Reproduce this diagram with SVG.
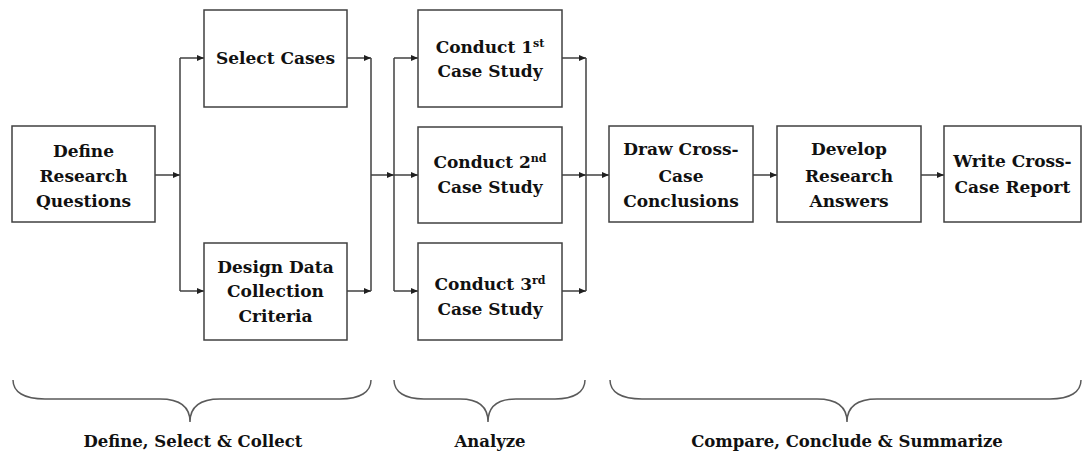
<svg xmlns="http://www.w3.org/2000/svg" width="1083" height="455" viewBox="0 0 1083 455">
<style>
  .box { fill: #ffffff; stroke: #404040; stroke-width: 1.5; }
  .lbl { font-family: "DejaVu Serif", "Liberation Serif", serif; font-weight: bold; font-size: 17px; fill: #111111; text-anchor: middle; }
  .sup { font-size: 11px; }
  .cn { fill: none; stroke: #404040; stroke-width: 1.5; }
  .arr { marker-end: url(#ah); }
  .brace { fill: none; stroke: #5a5a5a; stroke-width: 1.5; }
  .blbl { font-family: "DejaVu Serif", "Liberation Serif", serif; font-weight: bold; font-size: 16.5px; fill: #111111; text-anchor: middle; }
</style>
<defs>
  <marker id="ah" markerUnits="userSpaceOnUse" markerWidth="8" markerHeight="6" refX="7" refY="3" orient="auto">
    <path d="M0,0 L7,3 L0,6 z" fill="#202020"/>
  </marker>
</defs>
<rect width="1083" height="455" fill="#ffffff"/>

<g id="connectors">
  <line class="cn arr" x1="155" y1="175" x2="180" y2="175"/>
  <line class="cn" x1="180" y1="58" x2="180" y2="291"/>
  <line class="cn arr" x1="180" y1="58" x2="204" y2="58"/>
  <line class="cn arr" x1="180" y1="291" x2="204" y2="291"/>
  <line class="cn arr" x1="347" y1="58" x2="371" y2="58"/>
  <line class="cn arr" x1="347" y1="291" x2="371" y2="291"/>
  <line class="cn" x1="371" y1="58" x2="371" y2="291"/>
  <line class="cn arr" x1="371" y1="175" x2="394" y2="175"/>
  <line class="cn" x1="394" y1="58" x2="394" y2="291"/>
  <line class="cn arr" x1="394" y1="58" x2="418" y2="58"/>
  <line class="cn arr" x1="394" y1="175" x2="418" y2="175"/>
  <line class="cn arr" x1="394" y1="291" x2="418" y2="291"/>
  <line class="cn arr" x1="562" y1="58" x2="586" y2="58"/>
  <line class="cn arr" x1="562" y1="175" x2="586" y2="175"/>
  <line class="cn arr" x1="562" y1="291" x2="586" y2="291"/>
  <line class="cn" x1="586" y1="58" x2="586" y2="291"/>
  <line class="cn arr" x1="586" y1="175" x2="609" y2="175"/>
  <line class="cn arr" x1="753" y1="175" x2="777" y2="175"/>
  <line class="cn arr" x1="921" y1="175" x2="944" y2="175"/>
</g>

<g id="define">
  <rect class="box" x="12" y="126" width="143" height="96"/>
  <text class="lbl" x="83.5" y="157">Define</text>
  <text class="lbl" x="83.5" y="182">Research</text>
  <text class="lbl" x="83.5" y="207">Questions</text>
</g>
<g id="select">
  <rect class="box" x="204" y="10" width="143" height="97"/>
  <text class="lbl" x="275.5" y="64">Select Cases</text>
</g>
<g id="design">
  <rect class="box" x="204" y="243" width="143" height="97"/>
  <text class="lbl" x="275.5" y="273">Design Data</text>
  <text class="lbl" x="275.5" y="297">Collection</text>
  <text class="lbl" x="275.5" y="322">Criteria</text>
</g>
<g id="case1">
  <rect class="box" x="418" y="10" width="144" height="97"/>
  <text class="lbl" x="490" y="53">Conduct 1<tspan class="sup" dy="-6">st</tspan></text>
  <text class="lbl" x="490" y="77">Case Study</text>
</g>
<g id="case2">
  <rect class="box" x="418" y="127" width="144" height="96"/>
  <text class="lbl" x="490" y="168">Conduct 2<tspan class="sup" dy="-6">nd</tspan></text>
  <text class="lbl" x="490" y="193">Case Study</text>
</g>
<g id="case3">
  <rect class="box" x="418" y="243" width="144" height="97"/>
  <text class="lbl" x="490" y="290">Conduct 3<tspan class="sup" dy="-6">rd</tspan></text>
  <text class="lbl" x="490" y="315">Case Study</text>
</g>
<g id="draw">
  <rect class="box" x="609" y="126" width="144" height="96"/>
  <text class="lbl" x="681" y="155">Draw Cross-</text>
  <text class="lbl" x="681" y="182">Case</text>
  <text class="lbl" x="681" y="207">Conclusions</text>
</g>
<g id="develop">
  <rect class="box" x="777" y="126" width="144" height="96"/>
  <text class="lbl" x="849" y="155">Develop</text>
  <text class="lbl" x="849" y="182">Research</text>
  <text class="lbl" x="849" y="207">Answers</text>
</g>
<g id="write">
  <rect class="box" x="944" y="126" width="137" height="96"/>
  <text class="lbl" x="1012.5" y="167">Write Cross-</text>
  <text class="lbl" x="1012.5" y="193">Case Report</text>
</g>

<g id="brace1">
  <path class="brace" d="M13,380 C13,392 24,399 45,399 L160,399 C180,399 190,406 190,422 C190,406 200,399 220,399 L340,399 C360,399 371,392 371,380"/>
  <text class="blbl" x="193" y="447">Define, Select &amp; Collect</text>
</g>
<g id="brace2">
  <path class="brace" d="M394,380 C394,392 405,399 424,399 L460,399 C478,399 488,406 488,422 C488,406 498,399 516,399 L555,399 C574,399 585,392 585,380"/>
  <text class="blbl" x="490" y="447">Analyze</text>
</g>
<g id="brace3">
  <path class="brace" d="M610,380 C610,392 621,399 642,399 L817,399 C837,399 847,406 847,422 C847,406 857,399 877,399 L1050,399 C1070,399 1081,392 1081,380"/>
  <text class="blbl" x="847" y="447">Compare, Conclude &amp; Summarize</text>
</g>
</svg>
